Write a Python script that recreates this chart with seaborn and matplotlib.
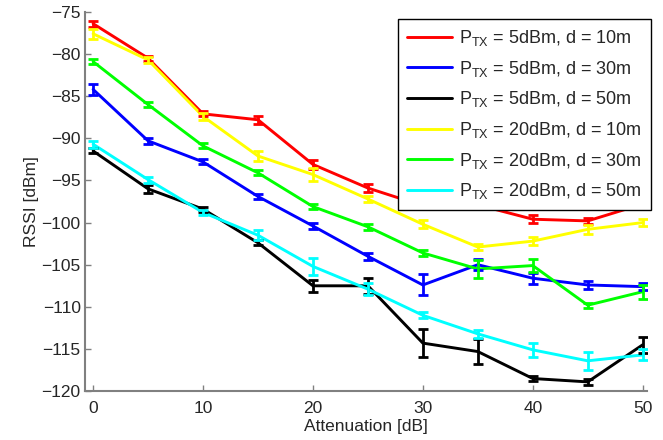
"""
RSSI vs attenuation for two TX powers and three distances
"""
import numpy as np
import pandas as pd
import seaborn as sns
import matplotlib
matplotlib.use('Agg')
import matplotlib.pyplot as plt

# attenuation steps [dB]
attenuation = [0, 5, 10, 15, 20, 25, 30, 35, 40, 45, 50]

# mean RSSI [dBm] and error half-width per series
rssi_5_10 = [-76.4, -80.5, -87.1, -87.8, -93.1, -95.9, -98.0, -97.9, -99.6, -99.8, -97.8]
err_5_10 = [0.35, 0.3, 0.3, 0.5, 0.5, 0.5, 0.4, 0.4, 0.5, 0.4, 0.4]
rssi_5_30 = [-84.2, -90.3, -92.8, -96.9, -100.4, -104.0, -107.4, -105.0, -106.6, -107.4, -107.6]
err_5_30 = [0.7, 0.35, 0.3, 0.35, 0.35, 0.4, 1.25, 0.65, 0.65, 0.45, 0.45]
rssi_5_50 = [-91.5, -96.0, -98.4, -102.4, -107.5, -107.5, -114.3, -115.3, -118.5, -118.9, -114.5]
err_5_50 = [0.3, 0.45, 0.3, 0.3, 0.7, 0.95, 1.7, 1.45, 0.35, 0.4, 0.95]
rssi_20_10 = [-77.6, -80.7, -87.4, -92.1, -94.3, -97.2, -100.2, -102.9, -102.2, -100.8, -100.0]
err_20_10 = [0.6, 0.4, 0.4, 0.55, 0.75, 0.4, 0.45, 0.4, 0.45, 0.5, 0.45]
rssi_20_30 = [-80.9, -86.0, -90.9, -94.1, -98.1, -100.5, -103.6, -105.5, -105.1, -109.8, -108.2]
err_20_30 = [0.3, 0.3, 0.3, 0.3, 0.3, 0.35, 0.35, 1.1, 0.8, 0.3, 0.85]
rssi_20_50 = [-90.7, -94.9, -98.8, -101.5, -105.2, -107.9, -111.0, -113.2, -115.1, -116.4, -115.7]
err_20_50 = [0.4, 0.35, 0.3, 0.6, 1.0, 0.75, 0.35, 0.5, 0.85, 1.05, 0.65]

labels = [
    r'$\mathregular{P_{TX}}$ = 5dBm, d = 10m',
    r'$\mathregular{P_{TX}}$ = 5dBm, d = 30m',
    r'$\mathregular{P_{TX}}$ = 5dBm, d = 50m',
    r'$\mathregular{P_{TX}}$ = 20dBm, d = 10m',
    r'$\mathregular{P_{TX}}$ = 20dBm, d = 30m',
    r'$\mathregular{P_{TX}}$ = 20dBm, d = 50m',
]
colors = ['#ff0000', '#0000ff', '#000000', '#ffff00', '#00ff00', '#00ffff']

series = [rssi_5_10, rssi_5_30, rssi_5_50, rssi_20_10, rssi_20_30, rssi_20_50]
errors = [err_5_10, err_5_30, err_5_50, err_20_10, err_20_30, err_20_50]

# long-form table for seaborn
rows = []
for lab, vals, errs in zip(labels, series, errors):
    for a, v, e in zip(attenuation, vals, errs):
        rows.append({'Attenuation': a, 'RSSI': v, 'err': e, 'series': lab})
df = pd.DataFrame(rows)

FS = 12.5

sns.set_theme(style='ticks')
plt.rcParams['font.family'] = ['Liberation Sans', 'DejaVu Sans']
plt.rcParams['mathtext.fontset'] = 'custom'
plt.rcParams['mathtext.rm'] = 'Liberation Sans'
plt.rcParams['axes.unicode_minus'] = True

fig = plt.figure(figsize=(6.63, 4.40), dpi=100)
ax = fig.add_axes([0.128, 0.111, 0.848, 0.862])

sns.lineplot(data=df, x='Attenuation', y='RSSI', hue='series',
             palette=dict(zip(labels, colors)), hue_order=labels,
             linewidth=2.1, ax=ax, legend=False, errorbar=None)

for lab, col in zip(labels, colors):
    sub = df[df['series'] == lab]
    ax.errorbar(sub['Attenuation'], sub['RSSI'], yerr=sub['err'],
                fmt='none', ecolor=col, elinewidth=2.0, capsize=3.6,
                capthick=2.0)

ax.set_xlim(-0.75, 50.4)
ax.set_ylim(-120, -75)
ax.set_xticks(np.arange(0, 51, 10))
ax.set_yticks(np.arange(-120, -74, 5))
ax.set_xlabel('Attenuation [dB]', fontsize=FS, labelpad=2)
ax.set_ylabel('RSSI [dBm]', fontsize=FS, labelpad=2)
ax.tick_params(direction='in', length=4, width=1.0, color='#808080',
               labelsize=FS)
ax.tick_params(axis='x', pad=7)
ax.tick_params(axis='y', pad=3)

sns.despine(ax=ax)
for s in ['left', 'bottom']:
    ax.spines[s].set_color('#808080')
    ax.spines[s].set_linewidth(1.5)

handles = [plt.Line2D([], [], color=c, linewidth=2.1) for c in colors]
leg = ax.legend(handles, labels, loc='upper right',
                bbox_to_anchor=(651 / 663, 1 - 19 / 440),
                bbox_transform=fig.transFigure, borderaxespad=0,
                fontsize=13, handlelength=2.5, handletextpad=0.4,
                labelspacing=0.59, borderpad=0.5, fancybox=False,
                framealpha=1, edgecolor='black')
leg.get_frame().set_linewidth(1.0)

plt.savefig('out.png', dpi=100)
plt.close()
